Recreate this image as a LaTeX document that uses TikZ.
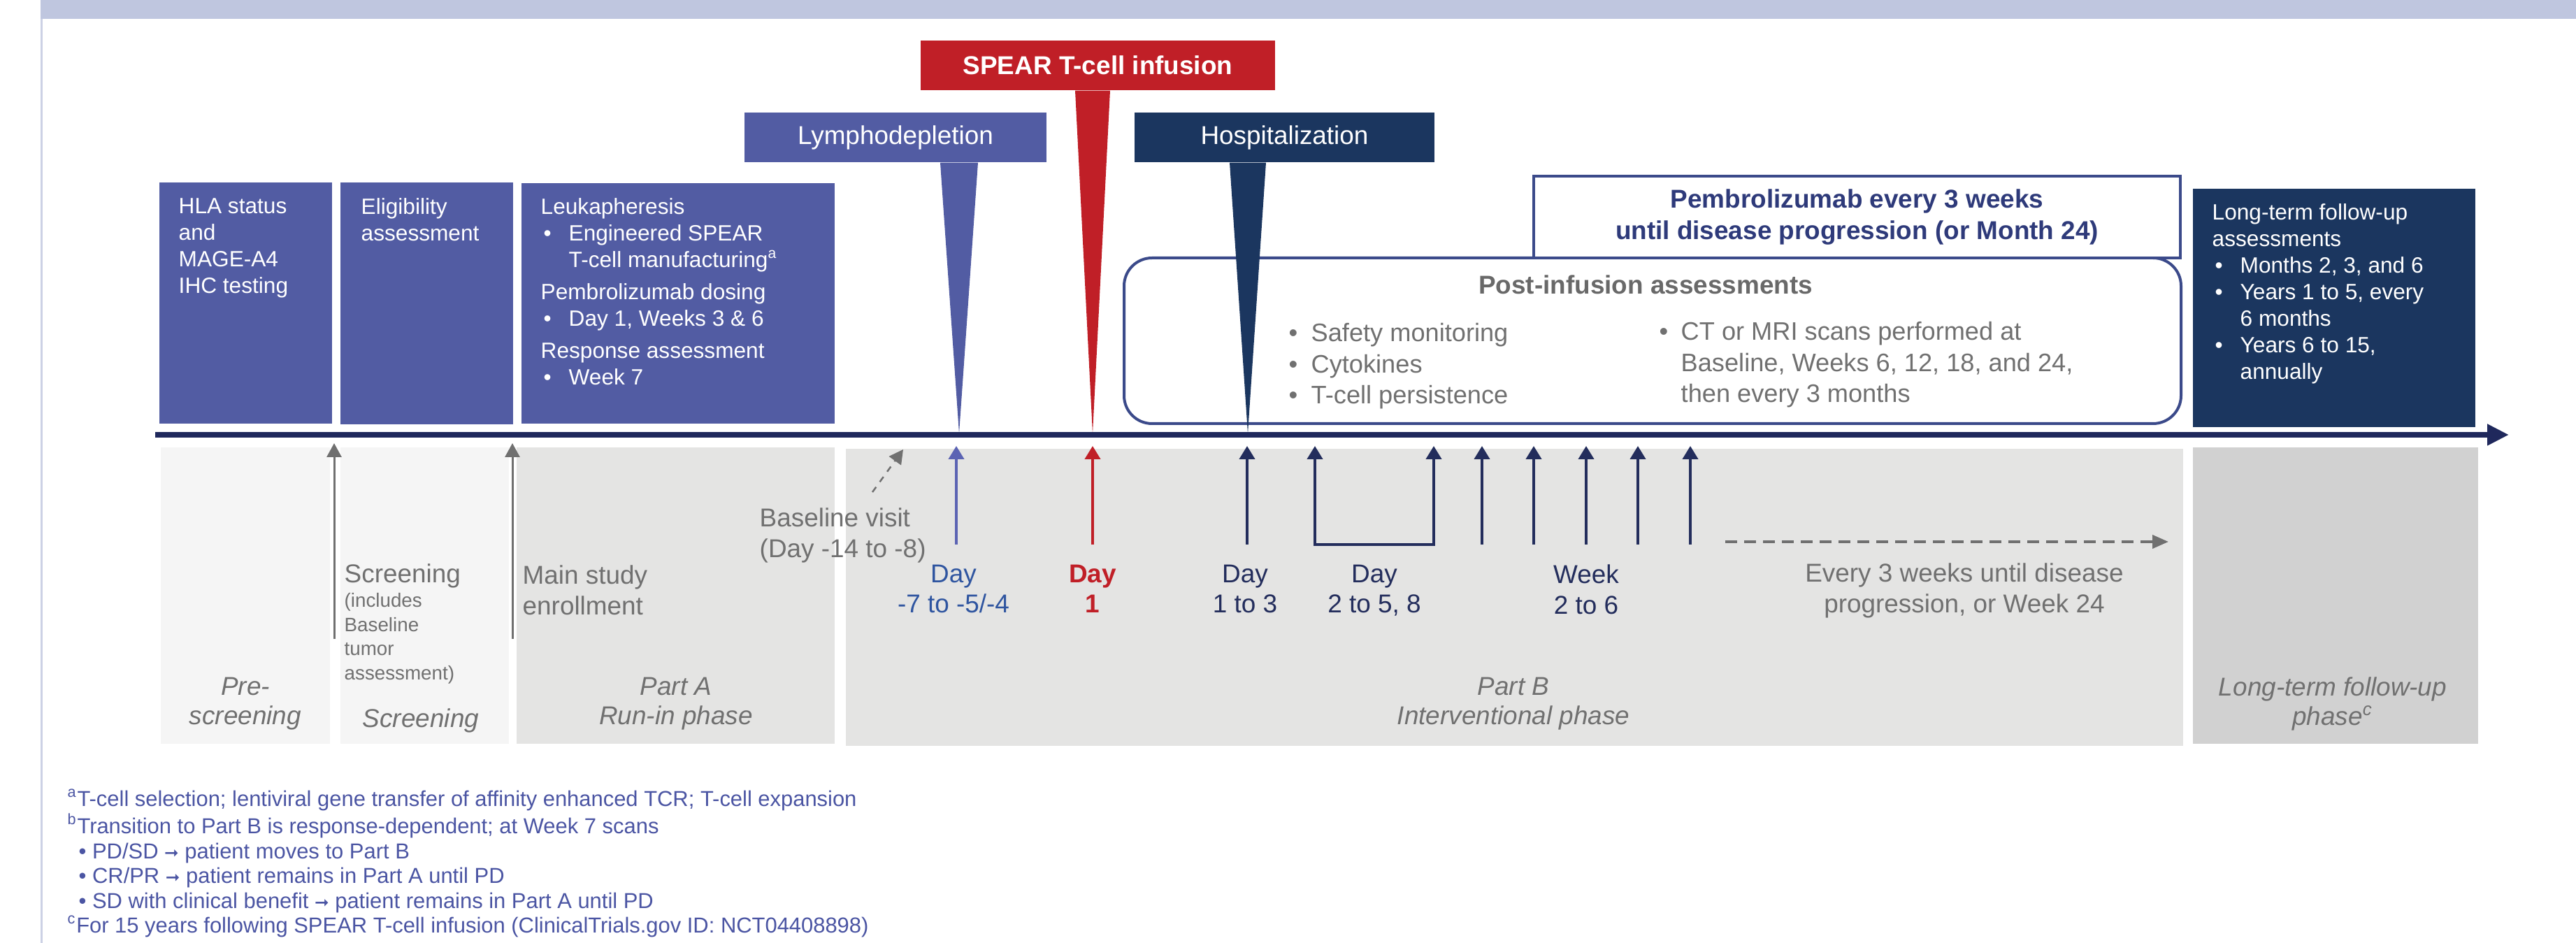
\documentclass[tikz,border=0pt]{standalone}
\usepackage{fontspec}
\setmainfont{Liberation Sans}
\newfontfamily\arrowfont{DejaVu Sans}
\usetikzlibrary{arrows.meta, calc}
\definecolor{bandblue}{HTML}{BFC6DF}
\definecolor{boxblue}{HTML}{525CA3}
\definecolor{hospnavy}{HTML}{1B365F}
\definecolor{spearred}{HTML}{C01F27}
\definecolor{axisnavy}{HTML}{1F285C}
\definecolor{rimnavy}{HTML}{3B4A8A}
\definecolor{pembrotext}{HTML}{2E3A7A}
\definecolor{txtgray}{HTML}{707070}
\definecolor{titlegray}{HTML}{696969}
\definecolor{lightpanel}{HTML}{F5F5F5}
\definecolor{midpanel}{HTML}{E4E4E3}
\definecolor{darkpanel}{HTML}{D1D1D1}
\definecolor{daytext}{HTML}{2F55A0}
\definecolor{ldarrow}{HTML}{5B63B3}
\definecolor{evnavy}{HTML}{232D5C}
\definecolor{notetext}{HTML}{4B55A3}
\newcommand{\setfs}[2]{\fontsize{#1pt}{#2pt}\selectfont}
\newcommand{\bpt}[1][0.40cm]{\makebox[#1][l]{\hspace{0.04cm}\textbullet}}
\newcommand{\bind}[1][0.40cm]{\hspace*{#1}}
\newcommand{\thenarrow}{{\arrowfont\fontsize{7}{8}\selectfont ➞}}

\begin{document}
\begin{tikzpicture}[
  topbox/.style={rectangle, fill=boxblue, inner sep=0pt},
  boxtxt/.style={anchor=north west, inner sep=0pt, align=left,
                 text=white, font=\setfs{9}{10.8}},
  tagbox/.style={rectangle, inner sep=0pt, minimum height=0.71cm,
                 text=white, font=\setfs{10.5}{12.6}},
  panel/.style={rectangle, inner sep=0pt, minimum height=4.24cm},
  phase/.style={anchor=north, inner sep=0pt, align=center,
                text=txtgray, font=\setfs{10.5}{12}\itshape},
  lbl/.style={anchor=north, inner sep=0pt, align=center,
              font=\setfs{10.5}{12.4}},
  gtxt/.style={anchor=north west, inner sep=0pt, align=left,
               text=txtgray, font=\setfs{10.5}{12.5}},
  evarr/.style={-{Triangle[length=1.9mm, width=2.2mm]}, line width=0.4mm, #1},
  grayarr/.style={-{Triangle[length=2mm, width=2.1mm]}, line width=0.3mm, txtgray},
  note/.style={anchor=north west, inner sep=0pt, align=left,
               text=notetext, font=\setfs{8.8}{10.1}}
]
\useasboundingbox (0,0) rectangle (36.85,-13.49);

% === Header band and left rule ===
\fill[bandblue] (0.58,0) rectangle (36.85,-0.27);
\draw[line width=0.3mm, bandblue!80!white] (0.595,-0.27) -- (0.595,-13.49);

% === Lower phase panels ===
\node[panel, fill=lightpanel, minimum width=2.42cm] (pre)  at ( 3.510,-8.52) {};
\node[panel, fill=lightpanel, minimum width=2.41cm] (scr)  at ( 6.075,-8.52) {};
\node[panel, fill=midpanel,   minimum width=4.55cm] (pa)   at ( 9.665,-8.52) {};
\node[panel, fill=midpanel,   minimum width=19.13cm, minimum height=4.25cm]
  (pb) at (21.665,-8.545) {};
\node[panel, fill=darkpanel,  minimum width=4.08cm] (ltfu) at (33.410,-8.52) {};

% === Top activity boxes ===
\node[topbox, minimum width=2.47cm, minimum height=3.45cm] (hla)  at ( 3.515,-4.335) {};
\node[topbox, minimum width=2.47cm, minimum height=3.46cm] (elig) at ( 6.105,-4.340) {};
\node[topbox, minimum width=4.48cm, minimum height=3.44cm] (leuk) at ( 9.700,-4.340) {};
\node[topbox, fill=hospnavy, minimum width=4.04cm, minimum height=3.41cm]
  (ltbox) at (33.390,-4.405) {};

\node[boxtxt] (hlatxt) at (2.55,-2.83) {HLA status\\and\\MAGE-A4\\IHC testing};
\node[boxtxt] (eligtxt) at (5.16,-2.83) {Eligibility\\assessment};
\node[boxtxt] (leuktxt) at (7.73,-2.83)
  {Leukapheresis\\
   \bpt Engineered SPEAR\\
   \bind T-cell manufacturing\textsuperscript{a}\\[2.3pt]
   Pembrolizumab dosing\\
   \bpt Day 1, Weeks 3 \& 6\\[2.3pt]
   Response assessment\\
   \bpt Week 7};
\node[boxtxt] (lttxt) at (31.64,-2.91)
  {Long-term follow-up\\
   assessments\\
   \bpt Months 2, 3, and 6\\
   \bpt Years 1 to 5, every\\
   \bind 6 months\\
   \bpt Years 6 to 15,\\
   \bind annually};

% === Post-infusion and pembrolizumab frames ===
\node[rectangle, draw=rimnavy, line width=0.4mm, rounded corners=0.4cm,
      minimum width=15.12cm, minimum height=2.37cm, inner sep=0pt]
  (post) at (23.64,-4.875) {};
\node[rectangle, draw=rimnavy, fill=white, line width=0.4mm,
      minimum width=9.25cm, minimum height=1.17cm, inner sep=0pt,
      align=center, text=pembrotext, font=\setfs{10.5}{13}\bfseries]
  (pembro) at (26.565,-3.105)
  {Pembrolizumab every 3 weeks\\until disease progression (or Month 24)};

\node[anchor=base, inner sep=0pt, text=titlegray, font=\setfs{10.5}{12.6}\bfseries]
  (posttitle) at (23.54,-4.21) {Post-infusion assessments};
\node[gtxt, font=\setfs{10.3}{12.6}] (postleft) at (18.39,-4.62)
  {\bpt[0.36cm]Safety monitoring\\
   \bpt[0.36cm]Cytokines\\
   \bpt[0.36cm]T-cell persistence};
\node[gtxt, font=\setfs{10.3}{12.6}] (postright) at (23.69,-4.60)
  {\bpt[0.35cm]CT or MRI scans performed at\\
   \bind[0.35cm]Baseline, Weeks 6, 12, 18, and 24,\\
   \bind[0.35cm]then every 3 months};

% === Event tags with spikes onto the timeline ===
\node[tagbox, fill=boxblue,  minimum width=4.32cm] (ld)   at (12.810,-1.965) {Lymphodepletion};
\node[tagbox, fill=spearred, minimum width=5.07cm, font=\setfs{10.5}{12.6}\bfseries]
  (inf) at (15.705,-0.935) {SPEAR T-cell infusion};
\node[tagbox, fill=hospnavy, minimum width=4.29cm] (hosp) at (18.375,-1.965) {Hospitalization};

\coordinate (ldtip)   at (13.72,-6.20);
\coordinate (inftip)  at (15.63,-6.20);
\coordinate (hosptip) at (17.85,-6.20);
\fill[boxblue]  ($(ld.south -| ldtip)+(-0.27,0)$) -- ($(ld.south -| ldtip)+(0.27,0)$)
  -- (ldtip) -- cycle;
\fill[spearred] ($(inf.south -| inftip)+(-0.25,0)$) -- ($(inf.south -| inftip)+(0.25,0)$)
  -- (inftip) -- cycle;
\fill[hospnavy] ($(hosp.south -| hosptip)+(-0.26,0)$) -- ($(hosp.south -| hosptip)+(0.26,0)$)
  -- (hosptip) -- cycle;

% === Timeline ===
\coordinate (tlstart) at (2.22,-6.22);
\coordinate (tlend)   at (35.89,-6.22);
\draw[line width=0.8mm, axisnavy, -{Triangle[length=3.1mm, width=2.9mm]}]
  (tlstart) -- (tlend);

% === Screening / enrollment markers ===
\coordinate (scrlo) at (4.78,-9.14);  \coordinate (scrhi) at (4.78,-6.34);
\coordinate (enrlo) at (7.33,-9.14);  \coordinate (enrhi) at (7.33,-6.34);
\draw[grayarr] (scrlo) -- (scrhi);
\draw[grayarr] (enrlo) -- (enrhi);

\node[anchor=base west, inner sep=0pt, text=txtgray, font=\setfs{10.5}{12.5}]
  (scrlbl) at (4.92,-8.34) {Screening};
\node[gtxt, font=\setfs{7.9}{9.8}] (scrnote) at (4.92,-8.48)
  {(includes\\Baseline\\tumor\\assessment)};
\node[gtxt] (enrlbl) at (7.47,-8.08) {Main study\\enrollment};
\node[gtxt] (bvlbl) at (10.86,-7.26) {Baseline visit\\(Day -14 to -8)};

\coordinate (bvtail) at (12.48,-7.04);
\coordinate (bvtip)  at (12.92,-6.43);
\draw[grayarr, line width=0.25mm, dash pattern=on 0.9mm off 0.9mm] (bvtail) -- (bvtip);

% === Treatment-phase event arrows ===
\coordinate (ldlo)  at (13.68,-7.79); \coordinate (ldhi)  at (13.68,-6.38);
\coordinate (inflo) at (15.63,-7.79); \coordinate (infhi) at (15.63,-6.38);
\draw[evarr=ldarrow]  (ldlo) -- (ldhi);
\draw[evarr=spearred] (inflo) -- (infhi);

\foreach \n/\x in {d1/17.84, w2/21.20, w3/21.94, w4/22.69, w5/23.43, w6/24.18} {
  \coordinate (\n-lo) at (\x,-7.79);
  \coordinate (\n-hi) at (\x,-6.38);
  \draw[evarr=evnavy] (\n-lo) -- (\n-hi);
}
\coordinate (d2-lo) at (18.81,-7.79); \coordinate (d2-hi) at (18.81,-6.38);
\coordinate (d8-lo) at (20.51,-7.79); \coordinate (d8-hi) at (20.51,-6.38);
\draw[evarr=evnavy, {Triangle[length=1.9mm, width=2.2mm]}-{Triangle[length=1.9mm, width=2.2mm]}]
  (d2-hi) -- (d2-lo) -- (d8-lo) -- (d8-hi);

\coordinate (evtail) at (24.68,-7.75);
\coordinate (evtip)  at (31.02,-7.75);
\draw[-{Triangle[length=2.3mm, width=1.9mm]}, line width=0.4mm, txtgray,
      dash pattern=on 1.7mm off 1mm] (evtail) -- (evtip);

% === Event labels ===
\node[lbl, text=daytext] (ldday)  at (13.64,-8.07) {Day\\-7 to -5/-4};
\node[lbl, text=spearred, font=\setfs{10.5}{12.4}\bfseries]
  (infday) at (15.63,-8.07) {Day\\1};
\node[lbl, text=evnavy] (d13lbl)  at (17.81,-8.07) {Day\\1 to 3};
\node[lbl, text=evnavy] (d258lbl) at (19.66,-8.07) {Day\\2 to 5, 8};
\node[lbl, text=evnavy] (wklbl)   at (22.69,-8.07) {Week\\2 to 6};
\node[lbl, text=txtgray] (everylbl) at (28.10,-8.05)
  {Every 3 weeks until disease\\progression, or Week 24};

% === Phase names ===
\node[phase] (prename)  at ( 3.51,-9.68) {Pre-\\screening};
\node[phase] (scrname)  at ( 6.02,-9.68) {\strut\\Screening};
\node[phase] (paname)   at ( 9.67,-9.68) {Part A\\Run-in phase};
\node[phase] (pbname)   at (21.65,-9.68) {Part B\\Interventional phase};
\node[phase] (ltname)   at (33.37,-9.68) {Long-term follow-up\\phase\textsuperscript{c}};

% === Footnotes ===
\node[note] (notes) at (0.96,-11.28)
  {\textsuperscript{a}T-cell selection; lentiviral gene transfer of affinity enhanced TCR; T-cell expansion\\
   \textsuperscript{b}Transition to Part B is response-dependent; at Week 7 scans\\
   \hspace*{0.16cm}\textbullet\ PD/SD \thenarrow\ patient moves to Part B\\
   \hspace*{0.16cm}\textbullet\ CR/PR \thenarrow\ patient remains in Part A until PD\\
   \hspace*{0.16cm}\textbullet\ SD with clinical benefit \thenarrow\ patient remains in Part A until PD\\
   \textsuperscript{c}For 15 years following SPEAR T-cell infusion (ClinicalTrials.gov ID: NCT04408898)};

\end{tikzpicture}
\end{document}
